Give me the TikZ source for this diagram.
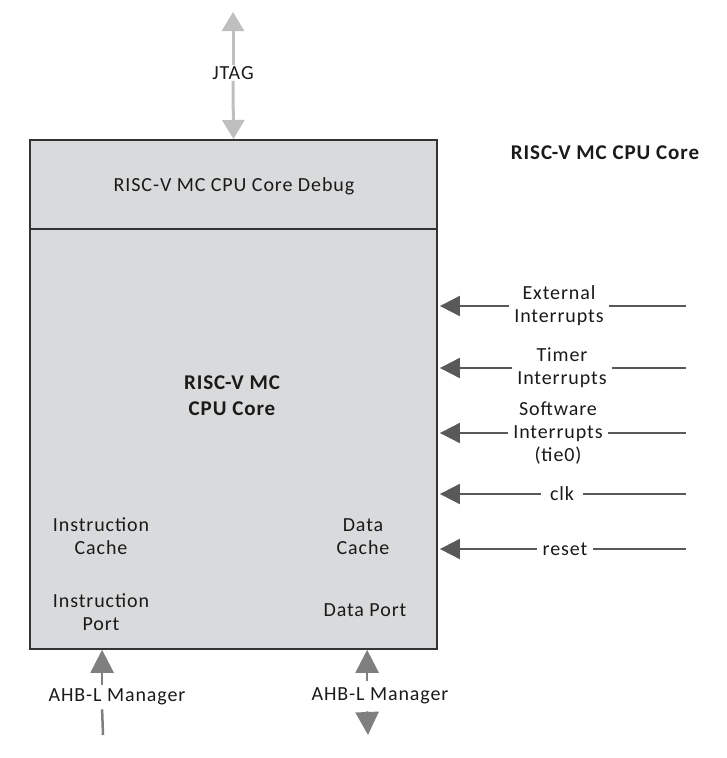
\documentclass[tikz,border=0pt]{standalone}
\usepackage{fontspec}
\setmainfont{Carlito}[LetterSpace=4.5]
\usetikzlibrary{arrows.meta}
\definecolor{boxfill}{HTML}{D9DADB}
\definecolor{boxline}{HTML}{333333}
\definecolor{darkarr}{HTML}{595959}
\definecolor{lightarr}{HTML}{BFBFBF}
\definecolor{midarr}{HTML}{7F7F7F}
\definecolor{txt}{HTML}{1A1A1A}
\begin{document}
\begin{tikzpicture}[x=1pt,y=-1pt,
  font=\fontsize{20}{23}\selectfont, text=txt,
  lbl/.style={align=center, inner sep=0pt},
  boldlbl/.style={align=center, inner sep=0pt, font=\fontsize{21}{26}\selectfont\bfseries},
  blk/.style={draw=boxline, line width=1.8pt, fill=boxfill, minimum width=407pt, inner sep=0pt, anchor=north},
  sig/.style={align=center, inner sep=5pt},
  inarrow/.style={draw=darkarr, line width=2pt, shorten >=2pt, -{Triangle[length=20pt,width=20pt]}},
  inline/.style={draw=darkarr, line width=2pt},
  jtagarrow/.style={draw=lightarr, line width=3pt, -{Triangle[length=19pt,width=22pt]}},
  botarrow/.style={draw=midarr, line width=2.5pt, -{Triangle[length=23pt,width=23pt]}},
  botline/.style={draw=midarr, line width=2.5pt}]
\useasboundingbox (0,0) rectangle (727,758);
% blocks
\node[blk, minimum height=89pt] (debug) at (233.5,139) {};
\node[blk, minimum height=420pt] (core) at (233.5,228) {};
% texts in blocks
\node[lbl] (debugtxt) at (234,186) {RISC-V MC CPU Core Debug};
\node[boldlbl] (coretxt) at (232,396) {RISC-V MC\\CPU Core};
\node[lbl] (icache) at (101,536) {Instruction\\Cache};
\node[lbl] (iport) at (101,612) {Instruction\\Port};
\node[lbl] (dcache) at (363,537) {Data\\Cache};
\node[lbl] (dport) at (365,610) {Data Port};
\node[boldlbl] (title) at (605,153) {RISC-V MC CPU Core};
% JTAG
\node[lbl, inner sep=1pt] (jtag) at (233,73) {JTAG};
\coordinate (jtagtop) at (233,12);
\draw[jtagarrow] (jtag.north) -- (jtagtop);
\draw[jtagarrow] (jtag.south) -- (debug.north);
% right side signals
\node[sig] (ext) at (559,306) {External\\Interrupts};
\node[sig] (tim) at (562,368) {Timer\\Interrupts};
\node[sig] (sw) at (558,433) {Software\\Interrupts\\(tie0)};
\node[sig, inner sep=9pt] (clk) at (562,494) {clk};
\node[sig] (rst) at (565,549) {reset};
\coordinate (extR) at (686,306);
\coordinate (timR) at (686,368);
\coordinate (swR) at (686,433);
\coordinate (clkR) at (686,494);
\coordinate (rstR) at (686,549);
\foreach \s in {ext,tim,sw,clk,rst}{
  \draw[inarrow] (\s.west) -- (\s.west -| core.east);
  \draw[inline] (\s.east) -- (\s R);
}
% bottom ports
\path (core.south west) ++(73,0) coordinate (ipin);
\path (core.south west) ++(338,0) coordinate (dpin);
\node[lbl, inner sep=4pt] (ahbl) at (117,697) {AHB-L Manager};
\node[lbl, inner sep=7pt] (ahbr) at (380,696) {AHB-L Manager};
\coordinate (ahblend) at (103,735);
\coordinate (ahbrend) at (368,735);
\draw[botarrow] (ahbl.north -| ipin) -- (ipin);
\draw[botline] (ahbl.south -| ipin) -- (ahblend);
\draw[botarrow] (ahbr.north -| dpin) -- (dpin);
\draw[botarrow] (ahbr.south -| dpin) -- (ahbrend);
\end{tikzpicture}
\end{document}
